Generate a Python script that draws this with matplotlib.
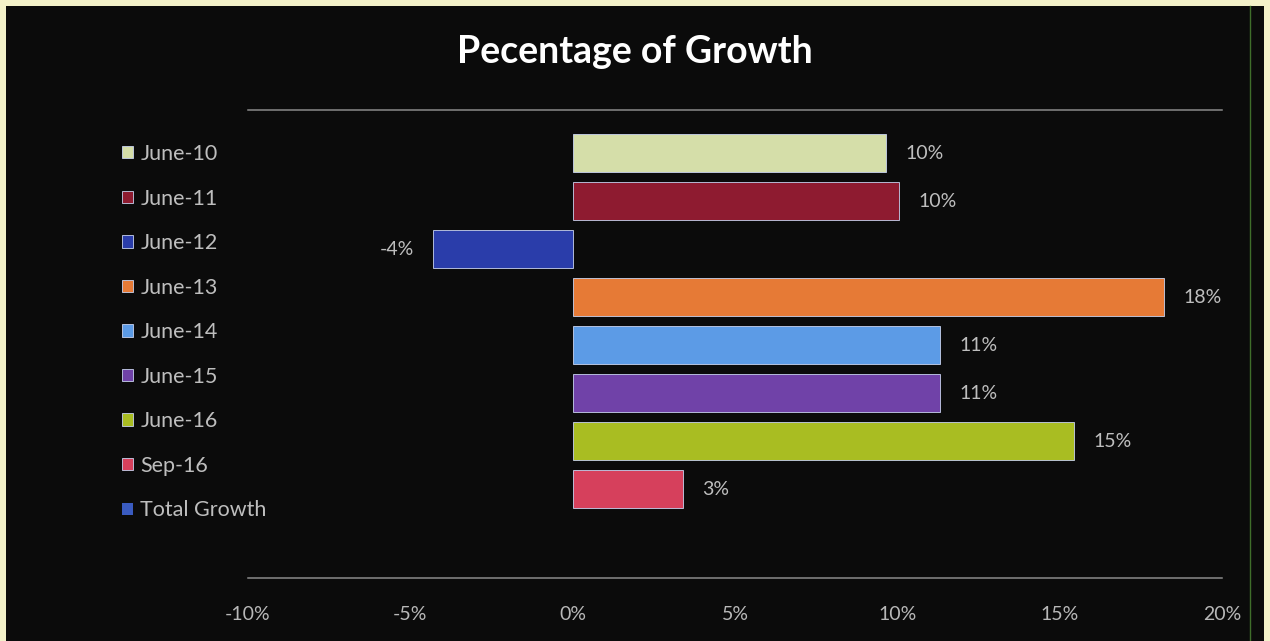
import matplotlib.pyplot as plt
from matplotlib.patches import Rectangle
from matplotlib.lines import Line2D
import numpy as np

periods = ['June-10', 'June-11', 'June-12', 'June-13', 'June-14',
           'June-15', 'June-16', 'Sep-16', 'Total Growth']
growth = [9.66, 10.06, -4.3, 18.2, 11.3, 11.3, 15.45, 3.4, np.nan]
colors = ['#D5DEA9', '#8E1B30', '#2A3DAA', '#E67A36', '#5C9BE6',
          '#7042A8', '#A9BD22', '#D6405C', '#3A5BC0']
xticks = [-10, -5, 0, 5, 10, 15, 20]

plt.rcParams['font.family'] = ['Lato', 'DejaVu Sans']

fig = plt.figure(figsize=(12.7, 6.41), dpi=100, facecolor='#F3F1C9')
fig.add_artist(Rectangle((6/1270, 0), 1258/1270, 635/641, transform=fig.transFigure,
                         facecolor='#0B0B0B', edgecolor='none', zorder=0))
fig.add_artist(Line2D([1250/1270, 1250/1270], [0, 635/641], transform=fig.transFigure,
                      color='#3F6E2A', lw=1, zorder=1))

ax = fig.add_axes([248/1270, 63/641, 974/1270, 468/641])
ax.set_facecolor('none')

for i, (p, v, c) in enumerate(zip(periods, growth, colors)):
    if np.isnan(v):
        # no bar drawn, legend entry only
        ax.barh(i, 0, height=0.8, color=c, linewidth=0, label=p)
        continue
    b = ax.barh(i, v, height=0.8, color=c, edgecolor='#C9D3F0', linewidth=0.6,
                label=p, zorder=3)
    ax.bar_label(b, labels=['%d%%' % round(v)], padding=14, color='#BEBEBE',
                 fontsize=14)

ax.set_xlim(-10, 20)
ax.set_ylim(8.85, -0.9)
ax.set_xticks(xticks)
ax.set_xticklabels(['%d%%' % t for t in xticks], color='#B8B8B8', fontsize=14)
ax.set_yticks([])
ax.tick_params(axis='x', length=0, pad=20)

for s in ['left', 'right']:
    ax.spines[s].set_visible(False)
for s in ['top', 'bottom']:
    ax.spines[s].set_color('#8A8A8A')
    ax.spines[s].set_linestyle((0, (2, 1)))
    ax.spines[s].set_linewidth(1.1)

fig.text(0.5, 1 - 52/641, 'Pecentage of Growth', ha='center', va='center',
         color='white', fontsize=27, fontweight='bold')

leg = ax.legend(loc='upper left', bbox_to_anchor=(122/1270, 1 - 144/641),
                bbox_transform=fig.transFigure, frameon=False, fontsize=15.5,
                handlelength=0.5, handleheight=0.5, handletextpad=0.35,
                labelspacing=1.14, borderaxespad=0, borderpad=0)
for t in leg.get_texts():
    t.set_color('#BEBEBE')

fig.savefig('out.png', dpi=100, facecolor=fig.get_facecolor())
